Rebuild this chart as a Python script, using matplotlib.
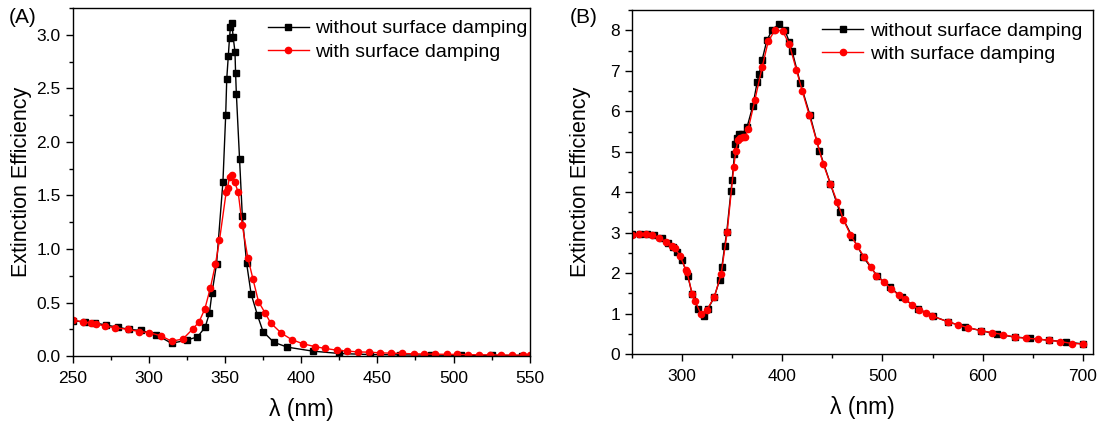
import numpy as np
import matplotlib
matplotlib.use('Agg')
import matplotlib.pyplot as plt
from matplotlib.ticker import MultipleLocator

plt.rcParams['font.family'] = ['Liberation Sans', 'DejaVu Sans']

# panel A: extinction efficiency, without / with surface damping
a_wl_nodamp = [250, 258, 265, 272, 280, 287, 295, 305, 315, 325, 332, 337, 339.8, 341.5,
               344.5, 348.7, 350.5, 351.2, 352.2, 353, 353.6, 354.5, 355.4, 356.6, 357, 357.5,
               359.6, 361.4, 364.2, 367.2, 371.4, 375, 382, 391, 407.6, 425, 445, 465,
               485, 505, 525, 545]
a_ext_nodamp = [0.33, 0.32, 0.31, 0.29, 0.27, 0.25, 0.24, 0.20, 0.12, 0.15, 0.18, 0.27, 0.40, 0.59,
                0.86, 1.63, 2.25, 2.59, 2.80, 2.97, 3.07, 3.11, 2.98, 2.84, 2.64, 2.45,
                1.84, 1.31, 0.87, 0.58, 0.38, 0.23, 0.13, 0.084, 0.047, 0.025, 0.015, 0.012,
                0.01, 0.008, 0.007, 0.006]
a_wl_damp = [250, 257, 262, 265.6, 271.4, 278, 286.5, 293.4, 300.4, 308, 315, 322.4, 329, 333,
             336.8, 340.5, 343.8, 346.4, 350.8, 351.7, 353, 354.5, 356.3, 358.7, 361.4, 365,
             368.4, 372, 376.3, 380, 387, 394, 401.4, 408.8, 415.8, 423.4, 430.4, 437.4,
             444.8, 452, 459, 466.4, 473.8, 480.8, 487.7, 495.4, 502.4, 509.8, 516.8, 524,
             531.4, 538.4, 545.3, 550]
a_ext_damp = [0.337, 0.32, 0.31, 0.30, 0.28, 0.265, 0.25, 0.23, 0.22, 0.19, 0.14, 0.16, 0.255, 0.32,
              0.44, 0.64, 0.86, 1.08, 1.53, 1.57, 1.67, 1.69, 1.63, 1.53, 1.22, 0.92,
              0.72, 0.51, 0.405, 0.31, 0.215, 0.153, 0.115, 0.09, 0.072, 0.056, 0.047, 0.04,
              0.037, 0.031, 0.028, 0.025, 0.022, 0.02, 0.019, 0.017, 0.016, 0.014, 0.013, 0.012,
              0.011, 0.01, 0.01, 0.01]

# panel B
b_wl_nodamp = [250, 258, 265, 272, 280, 285.7, 291, 295, 300, 305.7, 310, 315.5, 321.9, 326,
               332, 337.6, 339.7, 342.5, 344.6, 348.8, 350, 352.3, 353, 355, 357, 360, 365,
               370.6, 375, 377, 380, 384.6, 390, 397, 402.5, 407, 409.8, 418, 427.7, 437,
               448, 457.5, 470, 481, 495, 507.6, 519, 535.7, 550, 565, 582, 598, 614.5,
               632, 647.5, 666, 683.6, 700]
b_ext_nodamp = [2.96, 2.96, 2.96, 2.95, 2.87, 2.74, 2.65, 2.51, 2.32, 1.94, 1.49, 1.12, 0.95, 1.12,
                1.40, 1.84, 2.14, 2.66, 3.01, 4.02, 4.30, 4.94, 5.18, 5.34, 5.43, 5.43, 5.62,
                6.13, 6.73, 6.93, 7.28, 7.75, 8.02, 8.16, 8.02, 7.71, 7.49, 6.70, 5.90, 5.03,
                4.21, 3.50, 2.89, 2.39, 1.92, 1.66, 1.40, 1.12, 0.94, 0.80, 0.67, 0.58, 0.49,
                0.42, 0.39, 0.34, 0.30, 0.25]
b_wl_damp = [250, 257, 264, 270, 277, 284, 290, 292.8, 298, 304, 305, 310, 313, 318.7, 325, 332,
             339, 345, 351.6, 353.7, 355.9, 358, 360.8, 363.2, 366, 372.7, 380, 386, 393,
             400.4, 407, 414, 420, 427, 434.4, 441, 448, 455, 461, 468, 475, 482, 489, 494,
             501.7, 508.7, 516, 522.7, 529.7, 536, 543, 549.7, 565, 575.6, 585.8, 598, 609,
             620.5, 632, 643, 654.8, 666, 677, 689.5, 700]
b_ext_damp = [2.95, 2.96, 2.96, 2.95, 2.87, 2.78, 2.68, 2.62, 2.43, 2.07, 2.03, 1.49, 1.32, 0.99, 1.10, 1.40,
              1.97, 3.01, 4.62, 5.03, 5.29, 5.35, 5.37, 5.37, 5.56, 6.28, 7.10, 7.73, 8.02,
              7.98, 7.66, 7.03, 6.50, 5.90, 5.26, 4.69, 4.21, 3.75, 3.32, 2.95, 2.66, 2.39, 2.14, 1.94,
              1.77, 1.61, 1.46, 1.35, 1.22, 1.10, 1.02, 0.94, 0.80, 0.72, 0.65, 0.58, 0.53,
              0.48, 0.42, 0.39, 0.37, 0.34, 0.31, 0.26, 0.25]

label_nodamp = 'without surface damping'
label_damp = 'with surface damping'

W, H = 1099, 423


def style_axes(ax, xlim, ylim, xmajor, xminor, ymajor, yminor, yfmt, leg_dx):
    ax.set_xlim(*xlim)
    ax.set_ylim(*ylim)
    ax.xaxis.set_major_locator(MultipleLocator(xmajor))
    ax.xaxis.set_minor_locator(MultipleLocator(xminor))
    ax.yaxis.set_major_locator(MultipleLocator(ymajor))
    ax.yaxis.set_minor_locator(MultipleLocator(yminor))
    ax.yaxis.set_major_formatter(yfmt)
    ax.tick_params(which='major', direction='out', length=5, width=1, labelsize=12.5)
    ax.tick_params(axis='x', which='major', pad=6)
    ax.tick_params(which='minor', direction='out', length=3, width=1)
    for sp in ax.spines.values():
        sp.set_linewidth(1.0)
    # keep axis titles at a fixed pixel distance from the spines
    bb = ax.get_position()
    wpx, hpx = bb.width * W, bb.height * H
    ax.set_xlabel('\u03bb (nm)', fontsize=16.5)
    ax.set_ylabel('Extinction Efficiency', fontsize=15.5)
    ax.xaxis.set_label_coords(0.5, -53.0 / hpx)
    ax.yaxis.set_label_coords(-51.0 / wpx, 0.5)
    ax.xaxis.label.set_va('center')
    ax.yaxis.label.set_va('center')
    ax.legend(loc='upper right', bbox_to_anchor=(1 + leg_dx / wpx, 1 - 6.0 / hpx),
              frameon=False, fontsize=14, handlelength=2.1,
              numpoints=1, handletextpad=0.35, labelspacing=0.3,
              borderpad=0.2, borderaxespad=0.1)


fig = plt.figure(figsize=(10.99, 4.23), dpi=100)
ax1 = fig.add_axes([0.066, 0.158, 0.416, 0.823])
ax2 = fig.add_axes([0.575, 0.163, 0.4195, 0.813])

ax1.plot(a_wl_nodamp, a_ext_nodamp, color='black', lw=1.0, marker='s', ms=4,
         label=label_nodamp)
ax1.plot(a_wl_damp, a_ext_damp, color='red', lw=1.0, marker='o', ms=4.5,
         label=label_damp)
style_axes(ax1, (250, 550), (0, 3.25), 50, 25, 0.5, 0.25, '{x:.1f}', 4.0)

ax2.plot(b_wl_nodamp, b_ext_nodamp, color='black', lw=1.0, marker='s', ms=4,
         label=label_nodamp)
ax2.plot(b_wl_damp, b_ext_damp, color='red', lw=1.0, marker='o', ms=4.5,
         label=label_damp)
style_axes(ax2, (250, 710), (0, 8.5), 100, 50, 1, 0.5, '{x:.0f}', -5.0)

fig.text(0.008, 0.958, '(A)', fontsize=15, va='center', ha='left')
fig.text(0.518, 0.958, '(B)', fontsize=15, va='center', ha='left')

fig.savefig('out.png', dpi=100)
